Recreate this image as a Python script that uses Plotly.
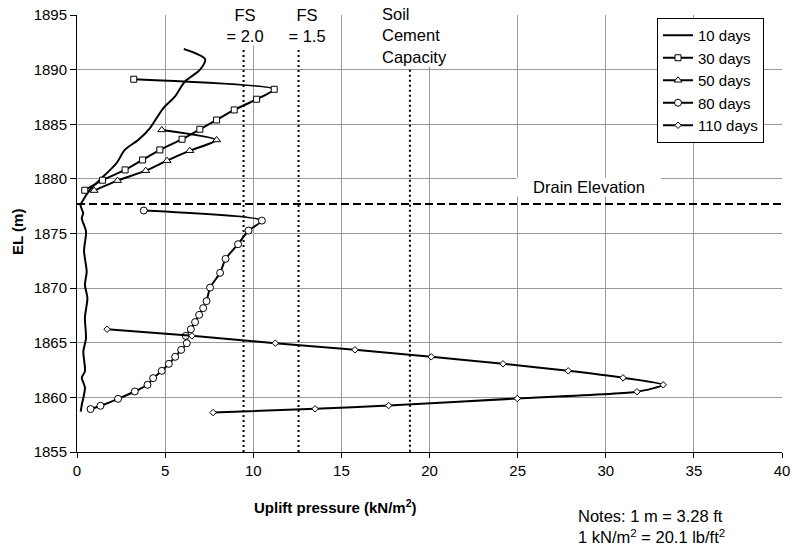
import plotly.graph_objects as go

# Uplift pressure (kN/m2) vs elevation (m) for each elapsed time
p_10 = [6.06, 7.27, 6.97, 6.12, 5.55, 4.89, 4.13, 3.47, 2.71, 2.24, 1.29, 0.73, 0.35, 0.20, 0.35,
        0.27, 0.51, 0.40, 0.55, 0.45, 0.59, 0.45, 0.51, 0.36, 0.45, 0.27, 0.45, 0.27, 0.21]
el_10 = [1891.89, 1890.95, 1889.97, 1888.9, 1887.53, 1886.46, 1884.63, 1883.56, 1882.65, 1881.43,
         1879.9, 1878.99, 1878.07, 1877.6, 1876.86,
         1876.4, 1875.2, 1873.4, 1871.5, 1870.3, 1869.1, 1867.3, 1865.4, 1864.2, 1862.4, 1861.8,
         1860.9, 1859.3, 1858.7]

p_30 = [3.22, 11.19, 10.19, 8.92, 7.92, 6.97, 5.96, 4.70, 3.72, 2.73, 1.45, 0.44]
el_30 = [1889.12, 1888.2, 1887.29, 1886.31, 1885.39, 1884.54, 1883.63, 1882.65, 1881.73,
         1880.82, 1879.88, 1878.96]

p_50 = [4.81, 7.92, 6.40, 5.11, 3.90, 2.30, 0.97]
el_50 = [1884.48, 1883.56, 1882.58, 1881.67, 1880.75, 1879.84, 1878.93]

p_80 = [3.79, 10.49, 9.73, 9.14, 8.43, 8.12, 7.55, 7.35, 7.16, 6.93, 6.70, 6.46, 6.17, 6.23,
        5.91, 5.57, 5.21, 4.81, 4.32, 4.00, 3.28, 2.33, 1.33, 0.77]
el_80 = [1877.1, 1876.18, 1875.27, 1874.02, 1872.68, 1871.4, 1870.05, 1868.81, 1868.17, 1867.55,
         1866.89, 1866.24, 1865.63, 1864.96, 1864.35, 1863.71, 1863.07, 1862.43, 1861.76,
         1861.15, 1860.54, 1859.87, 1859.23, 1858.93]

p_110 = [1.71, 6.52, 11.25, 15.77, 20.10, 24.17, 27.87, 30.98, 33.26, 31.77, 24.98, 17.68, 13.51, 7.72]
el_110 = [1866.24, 1865.63, 1864.96, 1864.35, 1863.71, 1863.07, 1862.43, 1861.79, 1861.15,
          1860.51, 1859.9, 1859.25, 1858.95, 1858.61]

series_names = ["10 days", "30 days", "50 days", "80 days", "110 days"]
series_symbols = [None, "square", "triangle-up", "circle", "diamond"]

# Reference pressures: FS = 2.0, FS = 1.5, soil cement capacity
ref_pressures = [9.45, 12.57, 18.89]
ref_tops = [1891.8, 1891.8, 1890.0]
drain_el = 1877.7

x_ticks = list(range(0, 45, 5))
y_ticks = list(range(1855, 1900, 5))

FONT = "Liberation Sans, Arial, sans-serif"

fig = go.Figure()

# reference lines
for xv, top in zip(ref_pressures, ref_tops):
    fig.add_trace(go.Scatter(x=[xv, xv], y=[top, 1855], mode="lines",
                             line=dict(color="black", width=2, dash="2px,3px"),
                             showlegend=False, hoverinfo="skip"))
fig.add_trace(go.Scatter(x=[0, 40], y=[drain_el, drain_el], mode="lines",
                         line=dict(color="black", width=2, dash="8px,4px"),
                         showlegend=False, hoverinfo="skip"))

data = [(p_10, el_10), (p_30, el_30), (p_50, el_50), (p_80, el_80), (p_110, el_110)]
marker_sizes = [0, 6, 7, 7, 5]
for (xs, ys), name, sym, ms in zip(data, series_names, series_symbols, marker_sizes):
    if sym is None:
        fig.add_trace(go.Scatter(x=xs, y=ys, name=name, mode="lines",
                                 line=dict(color="black", width=2, shape="spline", smoothing=0.8)))
    else:
        fig.add_trace(go.Scatter(x=xs, y=ys, name=name, mode="lines+markers",
                                 line=dict(color="black", width=2, shape="spline", smoothing=0.6),
                                 marker=dict(symbol=sym, size=ms, color="white",
                                             line=dict(color="black", width=1))))

L, R, T, B, W, H = 77, 11, 15, 97, 793, 549
pw, ph = W - L - R, H - T - B


def px_x(v):
    return (v - L) / pw


def px_y(v):
    return 1 - (v - T) / ph


annotations = [
    dict(text="FS<br>= 2.0", x=9.52, y=px_y(25), xref="x", yref="paper", showarrow=False,
         xanchor="center", yanchor="middle",
         font=dict(size=16.5), bgcolor="white", width=52, borderpad=0),
    dict(text="FS<br>= 1.5", x=13.04, y=px_y(25), xref="x", yref="paper", showarrow=False,
         xanchor="center", yanchor="middle",
         font=dict(size=16.5), bgcolor="white", width=60, borderpad=0),
    dict(text="Soil<br>Cement<br>Capacity", x=19.91, y=px_y(36), xref="x", yref="paper",
         showarrow=False, align="left", xanchor="center", yanchor="middle",
         font=dict(size=16.5), bgcolor="white", width=92, borderpad=0),
    dict(text="Drain Elevation", x=29.03, y=1879.24, xref="x", yref="y", showarrow=False,
         xanchor="center", yanchor="middle",
         font=dict(size=16.5), bgcolor="white", width=144, borderpad=0),
    dict(text="<b>Uplift pressure (kN/m<sup>2</sup>)</b>", x=px_x(335), y=px_y(507),
         xref="paper", yref="paper", xanchor="center", yanchor="middle",
         showarrow=False, font=dict(size=15)),
    dict(text="<b>EL (m)</b>", textangle=-90, x=px_x(17), y=px_y(232), xref="paper",
         yref="paper", xanchor="center", yanchor="middle", showarrow=False,
         font=dict(size=15)),
    dict(text="Notes: 1 m = 3.28 ft<br>1 kN/m<sup>2</sup> = 20.1 lb/ft<sup>2</sup>",
         x=px_x(576), y=px_y(526), xref="paper", yref="paper", showarrow=False,
         align="left", xanchor="left", yanchor="middle", font=dict(size=16.5)),
]

fig.update_layout(
    width=W, height=H,
    margin=dict(l=L, r=R, t=T, b=B, autoexpand=False),
    paper_bgcolor="white", plot_bgcolor="white",
    font=dict(family=FONT, color="black", size=15),
    showlegend=True,
    legend=dict(x=px_x(657), y=px_y(18), xanchor="left", yanchor="top",
                bordercolor="black", borderwidth=1, bgcolor="white",
                font=dict(size=15), itemwidth=30, tracegroupgap=0),
    annotations=annotations,
)
fig.update_xaxes(range=[0, 40], tickvals=x_ticks, showgrid=True, gridcolor="#999999",
                 gridwidth=1, showline=True, linecolor="black", linewidth=1,
                 ticks="outside", ticklen=5, tickcolor="black", zeroline=False,
                 tickfont=dict(size=15), automargin=False)
fig.update_yaxes(range=[1855, 1895], tickvals=y_ticks, showgrid=True, gridcolor="#999999",
                 gridwidth=1, showline=True, linecolor="black", linewidth=1,
                 ticks="outside", ticklen=6, tickcolor="black", zeroline=False,
                 tickfont=dict(size=15), automargin=False)

fig.write_html("out.html")
